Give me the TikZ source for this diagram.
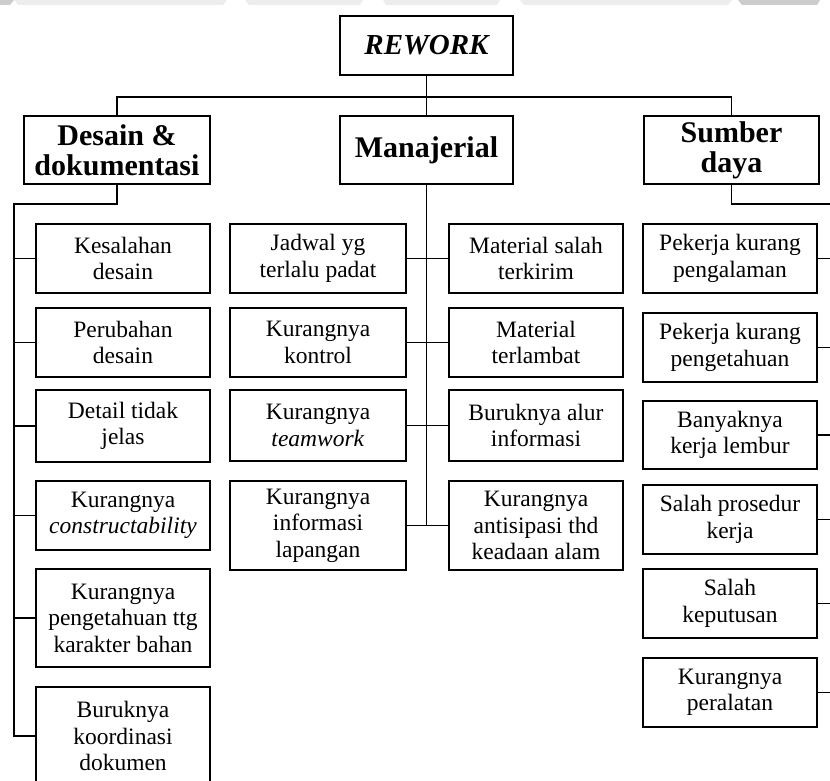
\documentclass[tikz,border=0pt]{standalone}
\usepackage{fontspec}
\setmainfont{Liberation Serif}
\begin{document}
\begin{tikzpicture}[x=1pt,y=-1pt,
  line width=1.6pt,
  box/.style={draw, fill=white, align=center, inner sep=0pt, minimum width=174pt, minimum height=69pt,
    font=\fontsize{23.5}{26.5}\selectfont},
  headbox/.style={box, font=\bfseries\fontsize{30}{30}\selectfont, minimum height=68pt},
  wm/.style={draw=none, fill=black!7},
  wmd/.style={draw=none, fill=black!20}]
\useasboundingbox (0,0) rectangle (830,781);
\clip (0,0) rectangle (830,781);
% faint watermark band at the top
\fill[wmd] (0,0) -- (14,0) -- (10,5) -- (0,5) -- cycle;
\fill[wm] (14,0) -- (227,0) -- (223,5) -- (18,5) -- cycle;
\fill[wm] (245,0) -- (363,0) -- (360,5) -- (249,5) -- cycle;
\fill[wm] (383,0) -- (500,0) -- (497,5) -- (386,5) -- cycle;
\fill[wm] (520,0) -- (732,0) -- (728,5) -- (524,5) -- cycle;
\fill[wmd] (738,0) -- (820,0) -- (817,5) -- (742,5) -- cycle;
% top levels
\node[headbox, minimum width=173pt, minimum height=59pt, font=\bfseries\itshape\fontsize{29}{30}\selectfont] (rework) at (426.5,45.5) {REWORK};
\node[headbox, minimum width=186pt] (desain) at (117,150) {Desain \&\\dokumentasi};
\node[headbox, minimum width=173pt] (manaj) at (426.5,150) {Manajerial};
\node[headbox, minimum width=175pt] (sumber) at (731.5,150) {Sumber\\daya};
\coordinate (busL) at (117,97);
\coordinate (busR) at (731.5,97);
\draw (desain.north) -- (busL) -- (busR) -- (sumber.north);
\draw (rework.south) -- (manaj.north);
% Desain column
\node[box] (l1) at (123,258.5) {Kesalahan\\desain};
\node[box] (l2) at (123,342.5) {Perubahan\\desain};
\node[box, minimum height=72pt] (l3) at (123,426) {Detail tidak\\jelas};
\node[box] (l4) at (123,515.5) {Kurangnya\\\textit{constructability}};
\node[box, minimum height=98pt] (l5) at (123,618) {Kurangnya\\pengetahuan ttg\\karakter bahan};
\node[box, minimum height=98pt] (l6) at (123,736) {Buruknya\\koordinasi\\dokumen};
\coordinate (dknee) at (117,204);
\coordinate (dsp) at (14,204);
\draw (desain.south) -- (dknee) -- (dsp) -- (dsp |- l6.west) -- (l6.west);
\foreach \n in {l1,l2,l3,l4,l5} \draw (\n.west) -- (\n.west -| dsp);
% Manajerial column
\node[box, minimum width=176pt] (m1l) at (318,258.5) {Jadwal yg\\terlalu padat};
\node[box, minimum width=176pt] (m2l) at (318,342.5) {Kurangnya\\kontrol};
\node[box, minimum width=176pt, minimum height=71pt] (m3l) at (318,425.5) {Kurangnya\\\textit{teamwork}};
\node[box, minimum width=176pt, minimum height=89pt] (m4l) at (318,525.5) {Kurangnya\\informasi\\lapangan};
\node[box] (m1r) at (536,258.5) {Material salah\\terkirim};
\node[box] (m2r) at (536,342.5) {Material\\terlambat};
\node[box, minimum height=71pt] (m3r) at (536,425.5) {Buruknya alur\\informasi};
\node[box, minimum height=89pt] (m4r) at (536,525.5) {Kurangnya\\antisipasi thd\\keadaan alam};
\draw (manaj.south) -- (manaj.south |- m4l.east);
\foreach \n in {1,2,3,4} \draw (m\n l.east) -- (m\n r.west);
% Sumber daya column
\node[box] (r1) at (730,258.5) {Pekerja kurang\\pengalaman};
\node[box] (r2) at (730,347.5) {Pekerja kurang\\pengetahuan};
\node[box, minimum height=68pt] (r3) at (730,435) {Banyaknya\\kerja lembur};
\node[box] (r4) at (730,519.5) {Salah prosedur\\kerja};
\node[box] (r5) at (730,603.5) {Salah\\keputusan};
\node[box] (r6) at (730,692.5) {Kurangnya\\peralatan};
\coordinate (sknee) at (731.5,204);
\coordinate (rsp) at (833,204);
\draw (sumber.south) -- (sknee) -- (rsp) -- (rsp |- r6.east) -- (r6.east);
\foreach \n in {r1,r2,r3,r4,r5} \draw (\n.east) -- (\n.east -| rsp);
\end{tikzpicture}
\end{document}
